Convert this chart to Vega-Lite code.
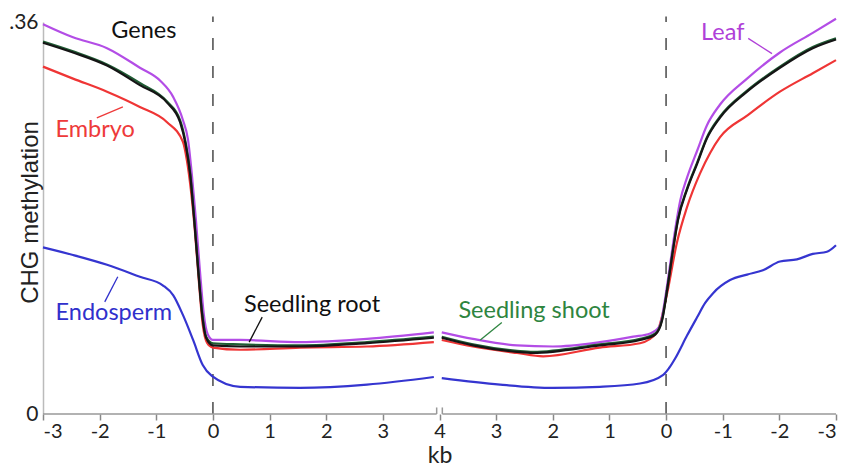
{
  "$schema": "https://vega.github.io/schema/vega-lite/v6.json",
  "width": 793,
  "height": 392,
  "autosize": {"type": "none"},
  "padding": {"left": 43, "top": 22, "right": 9, "bottom": 55},
  "config": {"view": {"stroke": null}, "font": "Lato"},
  "datasets": {
    "curves": [
      {"s": "Embryo", "seg": "L", "p": 0, "v": 0.319},
      {"s": "Embryo", "seg": "L", "p": 0.53, "v": 0.308},
      {"s": "Embryo", "seg": "L", "p": 1.13, "v": 0.296},
      {"s": "Embryo", "seg": "L", "p": 1.71, "v": 0.282},
      {"s": "Embryo", "seg": "L", "p": 2.19, "v": 0.268},
      {"s": "Embryo", "seg": "L", "p": 2.47, "v": 0.25},
      {"s": "Embryo", "seg": "L", "p": 2.54, "v": 0.233},
      {"s": "Embryo", "seg": "L", "p": 2.61, "v": 0.206},
      {"s": "Embryo", "seg": "L", "p": 2.68, "v": 0.169},
      {"s": "Embryo", "seg": "L", "p": 2.75, "v": 0.123},
      {"s": "Embryo", "seg": "L", "p": 2.82, "v": 0.082},
      {"s": "Embryo", "seg": "L", "p": 2.9, "v": 0.065},
      {"s": "Embryo", "seg": "L", "p": 3.0, "v": 0.061},
      {"s": "Embryo", "seg": "L", "p": 3.48, "v": 0.059},
      {"s": "Embryo", "seg": "L", "p": 4.54, "v": 0.061},
      {"s": "Embryo", "seg": "L", "p": 5.72, "v": 0.062},
      {"s": "Embryo", "seg": "L", "p": 6.9, "v": 0.066},
      {"s": "Embryo", "seg": "R", "p": 7.04, "v": 0.068},
      {"s": "Embryo", "seg": "R", "p": 7.59, "v": 0.062},
      {"s": "Embryo", "seg": "R", "p": 8.37, "v": 0.056},
      {"s": "Embryo", "seg": "R", "p": 8.83, "v": 0.053},
      {"s": "Embryo", "seg": "R", "p": 9.83, "v": 0.061},
      {"s": "Embryo", "seg": "R", "p": 10.54, "v": 0.065},
      {"s": "Embryo", "seg": "R", "p": 10.84, "v": 0.075},
      {"s": "Embryo", "seg": "R", "p": 10.93, "v": 0.09},
      {"s": "Embryo", "seg": "R", "p": 11.02, "v": 0.111},
      {"s": "Embryo", "seg": "R", "p": 11.19, "v": 0.157},
      {"s": "Embryo", "seg": "R", "p": 11.37, "v": 0.19},
      {"s": "Embryo", "seg": "R", "p": 11.6, "v": 0.221},
      {"s": "Embryo", "seg": "R", "p": 11.78, "v": 0.24},
      {"s": "Embryo", "seg": "R", "p": 11.95, "v": 0.254},
      {"s": "Embryo", "seg": "R", "p": 12.43, "v": 0.274},
      {"s": "Embryo", "seg": "R", "p": 13.01, "v": 0.296},
      {"s": "Embryo", "seg": "R", "p": 13.59, "v": 0.313},
      {"s": "Embryo", "seg": "R", "p": 14, "v": 0.325},

      {"s": "Endosperm", "seg": "L", "p": 0, "v": 0.153},
      {"s": "Endosperm", "seg": "L", "p": 0.53, "v": 0.146},
      {"s": "Endosperm", "seg": "L", "p": 1.13, "v": 0.137},
      {"s": "Endosperm", "seg": "L", "p": 1.71, "v": 0.126},
      {"s": "Endosperm", "seg": "L", "p": 2.12, "v": 0.118},
      {"s": "Endosperm", "seg": "L", "p": 2.3, "v": 0.109},
      {"s": "Endosperm", "seg": "L", "p": 2.47, "v": 0.091},
      {"s": "Endosperm", "seg": "L", "p": 2.65, "v": 0.068},
      {"s": "Endosperm", "seg": "L", "p": 2.82, "v": 0.045},
      {"s": "Endosperm", "seg": "L", "p": 2.98, "v": 0.035},
      {"s": "Endosperm", "seg": "L", "p": 3.48, "v": 0.025},
      {"s": "Endosperm", "seg": "L", "p": 4.54, "v": 0.024},
      {"s": "Endosperm", "seg": "L", "p": 5.72, "v": 0.027},
      {"s": "Endosperm", "seg": "L", "p": 6.9, "v": 0.034},
      {"s": "Endosperm", "seg": "R", "p": 7.04, "v": 0.033},
      {"s": "Endosperm", "seg": "R", "p": 8.07, "v": 0.027},
      {"s": "Endosperm", "seg": "R", "p": 9.0, "v": 0.024},
      {"s": "Endosperm", "seg": "R", "p": 9.83, "v": 0.025},
      {"s": "Endosperm", "seg": "R", "p": 10.54, "v": 0.028},
      {"s": "Endosperm", "seg": "R", "p": 10.95, "v": 0.036},
      {"s": "Endosperm", "seg": "R", "p": 11.05, "v": 0.042},
      {"s": "Endosperm", "seg": "R", "p": 11.16, "v": 0.051},
      {"s": "Endosperm", "seg": "R", "p": 11.37, "v": 0.072},
      {"s": "Endosperm", "seg": "R", "p": 11.55, "v": 0.089},
      {"s": "Endosperm", "seg": "R", "p": 11.69, "v": 0.102},
      {"s": "Endosperm", "seg": "R", "p": 11.83, "v": 0.111},
      {"s": "Endosperm", "seg": "R", "p": 12.13, "v": 0.123},
      {"s": "Endosperm", "seg": "R", "p": 12.43, "v": 0.128},
      {"s": "Endosperm", "seg": "R", "p": 12.71, "v": 0.132},
      {"s": "Endosperm", "seg": "R", "p": 13.01, "v": 0.14},
      {"s": "Endosperm", "seg": "R", "p": 13.31, "v": 0.142},
      {"s": "Endosperm", "seg": "R", "p": 13.59, "v": 0.147},
      {"s": "Endosperm", "seg": "R", "p": 13.84, "v": 0.149},
      {"s": "Endosperm", "seg": "R", "p": 14, "v": 0.155},

      {"s": "Leaf", "seg": "L", "p": 0, "v": 0.358},
      {"s": "Leaf", "seg": "L", "p": 0.53, "v": 0.346},
      {"s": "Leaf", "seg": "L", "p": 1.13, "v": 0.336},
      {"s": "Leaf", "seg": "L", "p": 1.71, "v": 0.318},
      {"s": "Leaf", "seg": "L", "p": 2.07, "v": 0.306},
      {"s": "Leaf", "seg": "L", "p": 2.3, "v": 0.291},
      {"s": "Leaf", "seg": "L", "p": 2.47, "v": 0.27},
      {"s": "Leaf", "seg": "L", "p": 2.56, "v": 0.252},
      {"s": "Leaf", "seg": "L", "p": 2.63, "v": 0.219},
      {"s": "Leaf", "seg": "L", "p": 2.7, "v": 0.178},
      {"s": "Leaf", "seg": "L", "p": 2.77, "v": 0.132},
      {"s": "Leaf", "seg": "L", "p": 2.84, "v": 0.091},
      {"s": "Leaf", "seg": "L", "p": 2.91, "v": 0.073},
      {"s": "Leaf", "seg": "L", "p": 3.0, "v": 0.068},
      {"s": "Leaf", "seg": "L", "p": 3.48, "v": 0.068},
      {"s": "Leaf", "seg": "L", "p": 4.54, "v": 0.066},
      {"s": "Leaf", "seg": "L", "p": 5.72, "v": 0.069},
      {"s": "Leaf", "seg": "L", "p": 6.9, "v": 0.075},
      {"s": "Leaf", "seg": "R", "p": 7.04, "v": 0.075},
      {"s": "Leaf", "seg": "R", "p": 7.59, "v": 0.069},
      {"s": "Leaf", "seg": "R", "p": 8.37, "v": 0.063},
      {"s": "Leaf", "seg": "R", "p": 9.0, "v": 0.062},
      {"s": "Leaf", "seg": "R", "p": 9.83, "v": 0.066},
      {"s": "Leaf", "seg": "R", "p": 10.42, "v": 0.071},
      {"s": "Leaf", "seg": "R", "p": 10.72, "v": 0.074},
      {"s": "Leaf", "seg": "R", "p": 10.89, "v": 0.081},
      {"s": "Leaf", "seg": "R", "p": 10.98, "v": 0.105},
      {"s": "Leaf", "seg": "R", "p": 11.07, "v": 0.137},
      {"s": "Leaf", "seg": "R", "p": 11.16, "v": 0.169},
      {"s": "Leaf", "seg": "R", "p": 11.25, "v": 0.196},
      {"s": "Leaf", "seg": "R", "p": 11.37, "v": 0.217},
      {"s": "Leaf", "seg": "R", "p": 11.55, "v": 0.242},
      {"s": "Leaf", "seg": "R", "p": 11.72, "v": 0.265},
      {"s": "Leaf", "seg": "R", "p": 11.95, "v": 0.284},
      {"s": "Leaf", "seg": "R", "p": 12.43, "v": 0.308},
      {"s": "Leaf", "seg": "R", "p": 13.01, "v": 0.332},
      {"s": "Leaf", "seg": "R", "p": 13.59, "v": 0.35},
      {"s": "Leaf", "seg": "R", "p": 14, "v": 0.363},

      {"s": "Seedling shoot", "seg": "L", "p": 0, "v": 0.342},
      {"s": "Seedling shoot", "seg": "L", "p": 0.53, "v": 0.333},
      {"s": "Seedling shoot", "seg": "L", "p": 1.13, "v": 0.321},
      {"s": "Seedling shoot", "seg": "L", "p": 1.71, "v": 0.304},
      {"s": "Seedling shoot", "seg": "L", "p": 2.19, "v": 0.287},
      {"s": "Seedling shoot", "seg": "L", "p": 2.42, "v": 0.27},
      {"s": "Seedling shoot", "seg": "L", "p": 2.52, "v": 0.249},
      {"s": "Seedling shoot", "seg": "L", "p": 2.6, "v": 0.221},
      {"s": "Seedling shoot", "seg": "L", "p": 2.67, "v": 0.18},
      {"s": "Seedling shoot", "seg": "L", "p": 2.74, "v": 0.134},
      {"s": "Seedling shoot", "seg": "L", "p": 2.81, "v": 0.093},
      {"s": "Seedling shoot", "seg": "L", "p": 2.88, "v": 0.071},
      {"s": "Seedling shoot", "seg": "L", "p": 3.0, "v": 0.065},
      {"s": "Seedling shoot", "seg": "L", "p": 3.48, "v": 0.064},
      {"s": "Seedling shoot", "seg": "L", "p": 4.54, "v": 0.063},
      {"s": "Seedling shoot", "seg": "L", "p": 5.72, "v": 0.066},
      {"s": "Seedling shoot", "seg": "L", "p": 6.9, "v": 0.071},
      {"s": "Seedling shoot", "seg": "R", "p": 7.04, "v": 0.071},
      {"s": "Seedling shoot", "seg": "R", "p": 7.59, "v": 0.064},
      {"s": "Seedling shoot", "seg": "R", "p": 8.37, "v": 0.058},
      {"s": "Seedling shoot", "seg": "R", "p": 8.65, "v": 0.057},
      {"s": "Seedling shoot", "seg": "R", "p": 9.83, "v": 0.064},
      {"s": "Seedling shoot", "seg": "R", "p": 10.54, "v": 0.069},
      {"s": "Seedling shoot", "seg": "R", "p": 10.81, "v": 0.074},
      {"s": "Seedling shoot", "seg": "R", "p": 10.93, "v": 0.087},
      {"s": "Seedling shoot", "seg": "R", "p": 11.02, "v": 0.115},
      {"s": "Seedling shoot", "seg": "R", "p": 11.11, "v": 0.147},
      {"s": "Seedling shoot", "seg": "R", "p": 11.21, "v": 0.179},
      {"s": "Seedling shoot", "seg": "R", "p": 11.37, "v": 0.207},
      {"s": "Seedling shoot", "seg": "R", "p": 11.55, "v": 0.231},
      {"s": "Seedling shoot", "seg": "R", "p": 11.72, "v": 0.254},
      {"s": "Seedling shoot", "seg": "R", "p": 11.95, "v": 0.273},
      {"s": "Seedling shoot", "seg": "R", "p": 12.43, "v": 0.297},
      {"s": "Seedling shoot", "seg": "R", "p": 13.01, "v": 0.319},
      {"s": "Seedling shoot", "seg": "R", "p": 13.59, "v": 0.337},
      {"s": "Seedling shoot", "seg": "R", "p": 14, "v": 0.345},

      {"s": "Seedling root", "seg": "L", "p": 0, "v": 0.341},
      {"s": "Seedling root", "seg": "L", "p": 0.53, "v": 0.332},
      {"s": "Seedling root", "seg": "L", "p": 1.13, "v": 0.32},
      {"s": "Seedling root", "seg": "L", "p": 1.71, "v": 0.302},
      {"s": "Seedling root", "seg": "L", "p": 2.19, "v": 0.286},
      {"s": "Seedling root", "seg": "L", "p": 2.42, "v": 0.268},
      {"s": "Seedling root", "seg": "L", "p": 2.52, "v": 0.247},
      {"s": "Seedling root", "seg": "L", "p": 2.6, "v": 0.219},
      {"s": "Seedling root", "seg": "L", "p": 2.67, "v": 0.178},
      {"s": "Seedling root", "seg": "L", "p": 2.74, "v": 0.132},
      {"s": "Seedling root", "seg": "L", "p": 2.81, "v": 0.091},
      {"s": "Seedling root", "seg": "L", "p": 2.88, "v": 0.07},
      {"s": "Seedling root", "seg": "L", "p": 3.0, "v": 0.063},
      {"s": "Seedling root", "seg": "L", "p": 3.48, "v": 0.062},
      {"s": "Seedling root", "seg": "L", "p": 4.54, "v": 0.062},
      {"s": "Seedling root", "seg": "L", "p": 5.72, "v": 0.065},
      {"s": "Seedling root", "seg": "L", "p": 6.9, "v": 0.07},
      {"s": "Seedling root", "seg": "R", "p": 7.04, "v": 0.07},
      {"s": "Seedling root", "seg": "R", "p": 7.59, "v": 0.063},
      {"s": "Seedling root", "seg": "R", "p": 8.37, "v": 0.057},
      {"s": "Seedling root", "seg": "R", "p": 8.65, "v": 0.056},
      {"s": "Seedling root", "seg": "R", "p": 9.83, "v": 0.063},
      {"s": "Seedling root", "seg": "R", "p": 10.54, "v": 0.068},
      {"s": "Seedling root", "seg": "R", "p": 10.81, "v": 0.073},
      {"s": "Seedling root", "seg": "R", "p": 10.93, "v": 0.086},
      {"s": "Seedling root", "seg": "R", "p": 11.02, "v": 0.114},
      {"s": "Seedling root", "seg": "R", "p": 11.11, "v": 0.146},
      {"s": "Seedling root", "seg": "R", "p": 11.21, "v": 0.178},
      {"s": "Seedling root", "seg": "R", "p": 11.37, "v": 0.206},
      {"s": "Seedling root", "seg": "R", "p": 11.55, "v": 0.23},
      {"s": "Seedling root", "seg": "R", "p": 11.72, "v": 0.253},
      {"s": "Seedling root", "seg": "R", "p": 11.95, "v": 0.272},
      {"s": "Seedling root", "seg": "R", "p": 12.43, "v": 0.296},
      {"s": "Seedling root", "seg": "R", "p": 13.01, "v": 0.318},
      {"s": "Seedling root", "seg": "R", "p": 13.59, "v": 0.336},
      {"s": "Seedling root", "seg": "R", "p": 14, "v": 0.344}
    ],
    "tss": [{"p": 3}, {"p": 11}],
    "baseline": [{"p": 0, "p2": 6.95}, {"p": 7.05, "p2": 14}],
    "breakends": [{"p": 6.95}, {"p": 7.05}],
    "labels": [
      {"lab": "Genes", "p": 1.78, "v": 0.352},
      {"lab": "Embryo", "p": 0.92, "v": 0.261},
      {"lab": "Endosperm", "p": 1.25, "v": 0.093},
      {"lab": "Seedling root", "p": 4.75, "v": 0.1},
      {"lab": "Seedling shoot", "p": 8.67, "v": 0.095},
      {"lab": "Leaf", "p": 12.0, "v": 0.35}
    ],
    "pointers": [
      {"lab": "Embryo", "p": 0.95, "v": 0.272, "p2": 1.41, "v2": 0.282},
      {"lab": "Endosperm", "p": 1.09, "v": 0.103, "p2": 1.32, "v2": 0.126},
      {"lab": "Seedling root", "p": 3.87, "v": 0.089, "p2": 3.64, "v2": 0.066},
      {"lab": "Seedling shoot", "p": 8.1, "v": 0.084, "p2": 7.72, "v2": 0.068},
      {"lab": "Leaf", "p": 12.45, "v": 0.345, "p2": 12.87, "v2": 0.331}
    ]
  },
  "layer": [
    {
      "data": {"name": "tss"},
      "mark": {"type": "rule", "strokeDash": [12, 16], "color": "#555555", "strokeWidth": 1.6},
      "encoding": {
        "x": {
          "field": "p", "type": "quantitative",
          "scale": {"domain": [0, 14], "nice": false, "zero": false},
          "axis": {
            "values": [0, 1, 2, 3, 4, 5, 6, 7, 8, 9, 10, 11, 12, 13, 14],
            "labelExpr": "datum.value <= 7 ? datum.value - 3 : 11 - datum.value",
            "title": "kb", "titleFontSize": 23, "titleFontWeight": "normal", "titleColor": "#222",
            "titlePadding": 3,
            "labelFontSize": 20, "labelColor": "#222", "labelPadding": 1,
            "tickSize": 6, "tickColor": "#888", "tickWidth": 1.5,
            "domain": false, "grid": false
          }
        },
        "y": {
          "datum": 0, "type": "quantitative",
          "scale": {"domain": [0, 0.36], "nice": false},
          "axis": {
            "values": [0, 0.36],
            "labelExpr": "datum.value == 0 ? '0' : '.36'",
            "ticks": false, "domainColor": "#bbbbbb", "domainWidth": 1.5, "grid": false,
            "labelFontSize": 21, "labelColor": "#222", "labelPadding": 5,
            "title": "CHG methylation", "titleFont": "Liberation Sans", "titleFontSize": 24,
            "titleFontWeight": "normal", "titleColor": "#222",
            "titleAngle": 270, "titleX": -6, "titleY": 190, "titleBaseline": "alphabetic", "titleAlign": "center"
          }
        },
        "y2": {"datum": 0.365}
      }
    },
    {
      "data": {"name": "baseline"},
      "mark": {"type": "rule", "color": "#999999", "strokeWidth": 1.6},
      "encoding": {
        "x": {"field": "p", "type": "quantitative", "title": "kb"},
        "x2": {"field": "p2"},
        "y": {"datum": 0, "type": "quantitative", "title": "CHG methylation"}
      }
    },
    {
      "data": {"name": "breakends"},
      "mark": {"type": "rule", "color": "#999999", "strokeWidth": 1.5},
      "encoding": {
        "x": {"field": "p", "type": "quantitative", "title": "kb"},
        "y": {"datum": 0, "type": "quantitative", "title": "CHG methylation"},
        "y2": {"datum": 0.006}
      }
    },
    {
      "data": {"name": "curves"},
      "mark": {"type": "line", "strokeWidth": 2.2, "interpolate": "monotone", "clip": false},
      "encoding": {
        "x": {"field": "p", "type": "quantitative", "title": "kb"},
        "y": {"field": "v", "type": "quantitative", "title": "CHG methylation"},
        "color": {
          "field": "s", "type": "nominal",
          "scale": {
            "domain": ["Embryo", "Endosperm", "Leaf", "Seedling shoot", "Seedling root"],
            "range": ["#ef3535", "#3535d0", "#b34de6", "#1f5c34", "#151515"]
          },
          "legend": null
        },
        "detail": {"field": "seg"},
        "order": {"field": "p"}
      }
    },
    {
      "data": {"name": "pointers"},
      "mark": {"type": "rule", "strokeWidth": 1.3},
      "encoding": {
        "x": {"field": "p", "type": "quantitative", "title": "kb"},
        "x2": {"field": "p2"},
        "y": {"field": "v", "type": "quantitative", "title": "CHG methylation"},
        "y2": {"field": "v2"},
        "color": {
          "field": "lab", "type": "nominal",
          "scale": {
            "domain": ["Genes", "Embryo", "Endosperm", "Seedling root", "Seedling shoot", "Leaf"],
            "range": ["#111111", "#ee3a3a", "#3030cc", "#111111", "#2e8540", "#b040d8"]
          },
          "legend": null
        }
      }
    },
    {
      "data": {"name": "labels"},
      "mark": {"type": "text", "fontSize": 23.5, "font": "Lato", "align": "center", "baseline": "middle"},
      "encoding": {
        "x": {"field": "p", "type": "quantitative", "title": "kb"},
        "y": {"field": "v", "type": "quantitative", "title": "CHG methylation"},
        "text": {"field": "lab"},
        "color": {
          "field": "lab", "type": "nominal",
          "scale": {
            "domain": ["Genes", "Embryo", "Endosperm", "Seedling root", "Seedling shoot", "Leaf"],
            "range": ["#111111", "#ee3a3a", "#3030cc", "#111111", "#2e8540", "#b040d8"]
          },
          "legend": null
        }
      }
    }
  ],
  "resolve": {"scale": {"color": "independent"}}
}
